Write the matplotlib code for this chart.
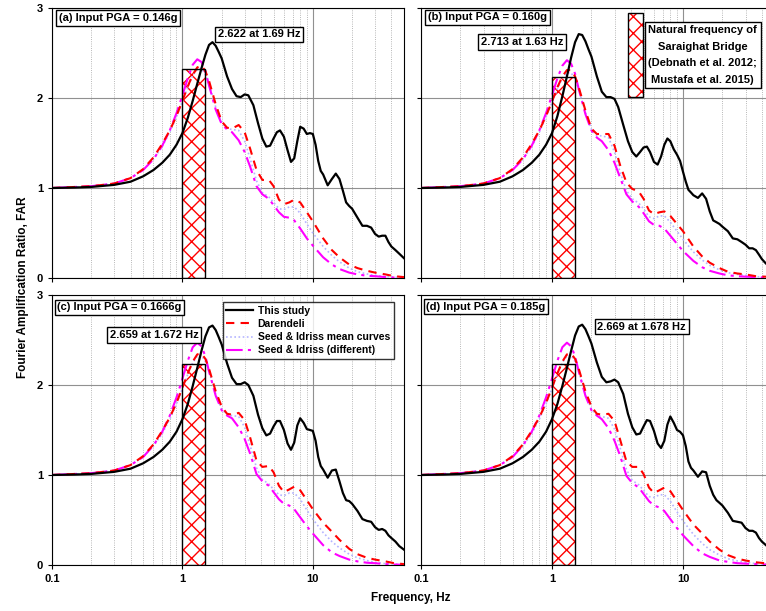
import matplotlib.pyplot as plt
from matplotlib.patches import Rectangle

plt.rcParams['font.family'] = ['Liberation Sans', 'DejaVu Sans']
plt.rcParams['font.weight'] = 'bold'

PANELS = ["a", "b", "c", "d"]
PGA_TEXT = ["(a) Input PGA = 0.146g", "(b) Input PGA = 0.160g",
            "(c) Input PGA = 0.1666g", "(d) Input PGA = 0.185g"]
PEAK_TEXT = ["2.622 at 1.69 Hz", "2.713 at 1.63 Hz",
             "2.659 at 1.672 Hz", "2.669 at 1.678 Hz"]

# natural frequency band of the bridge
BRIDGE_LO = 1.0
BRIDGE_HI = 1.5
BRIDGE_TOP = [2.32, 2.23, 2.23, 2.23]

# "This study" curves
FREQ_BLACK = [0.1, 0.15, 0.2, 0.3, 0.4, 0.5, 0.6, 0.7, 0.8, 0.9,
              1.0, 1.1, 1.2, 1.3, 1.4, 1.5, 1.6, 1.7, 1.8, 1.9,
              2.0, 2.2, 2.4, 2.6, 2.8, 3.0, 3.2, 3.5, 3.8, 4.1,
              4.4, 4.7, 5.0, 5.3, 5.6, 6.0, 6.4, 6.8, 7.2, 7.6,
              8.0, 8.5, 9.0, 9.5, 10, 10.5, 11, 11.5, 12, 13,
              14, 15, 16, 17, 18, 19, 20, 22, 24, 26,
              28, 30, 32, 34, 36, 38, 40, 43, 46, 50]
BLACK_A = [1.00, 1.005, 1.012, 1.035, 1.07, 1.13, 1.20, 1.28, 1.37, 1.48,
           1.61, 1.78, 1.97, 2.16, 2.33, 2.48, 2.59, 2.62, 2.58, 2.51,
           2.44, 2.24, 2.10, 2.02, 2.01, 2.04, 2.03, 1.92, 1.72, 1.55,
           1.46, 1.47, 1.55, 1.62, 1.64, 1.57, 1.42, 1.29, 1.33, 1.52,
           1.68, 1.66, 1.60, 1.61, 1.60, 1.48, 1.30, 1.19, 1.15, 1.03,
           1.10, 1.16, 1.10, 0.97, 0.84, 0.80, 0.77, 0.67, 0.58, 0.58,
           0.56, 0.49, 0.46, 0.47, 0.47, 0.40, 0.35, 0.31, 0.27, 0.22]
BLACK_B = [1.00, 1.005, 1.012, 1.035, 1.07, 1.13, 1.20, 1.28, 1.37, 1.48,
           1.61, 1.80, 2.02, 2.24, 2.45, 2.62, 2.71, 2.70, 2.63, 2.54,
           2.46, 2.24, 2.07, 2.01, 2.01, 1.99, 1.90, 1.70, 1.52, 1.40,
           1.35, 1.40, 1.45, 1.46, 1.40, 1.29, 1.26, 1.35, 1.48, 1.55,
           1.52, 1.43, 1.37, 1.30, 1.18, 1.07, 0.98, 0.95, 0.92, 0.89,
           0.94, 0.88, 0.74, 0.64, 0.62, 0.60, 0.57, 0.52, 0.44, 0.43,
           0.40, 0.37, 0.33, 0.33, 0.31, 0.26, 0.21, 0.16, 0.13, 0.10]
BLACK_C = [1.00, 1.005, 1.012, 1.035, 1.07, 1.13, 1.20, 1.28, 1.37, 1.48,
           1.62, 1.79, 1.99, 2.19, 2.38, 2.54, 2.64, 2.66, 2.61, 2.53,
           2.45, 2.24, 2.08, 2.01, 2.01, 2.03, 2.00, 1.88, 1.67, 1.52,
           1.44, 1.46, 1.54, 1.60, 1.60, 1.50, 1.35, 1.28, 1.36, 1.55,
           1.63, 1.58, 1.51, 1.50, 1.49, 1.38, 1.20, 1.10, 1.06, 0.97,
           1.05, 1.06, 0.93, 0.80, 0.72, 0.71, 0.68, 0.60, 0.51, 0.49,
           0.48, 0.42, 0.39, 0.40, 0.38, 0.33, 0.30, 0.26, 0.21, 0.17]
BLACK_D = [1.00, 1.005, 1.012, 1.035, 1.07, 1.13, 1.20, 1.28, 1.37, 1.48,
           1.62, 1.79, 1.99, 2.19, 2.38, 2.55, 2.65, 2.67, 2.62, 2.54,
           2.46, 2.25, 2.09, 2.03, 2.04, 2.06, 2.03, 1.90, 1.68, 1.53,
           1.45, 1.46, 1.54, 1.61, 1.60, 1.49, 1.35, 1.30, 1.38, 1.56,
           1.65, 1.58, 1.50, 1.48, 1.44, 1.32, 1.15, 1.08, 1.05, 0.98,
           1.04, 1.03, 0.88, 0.78, 0.72, 0.69, 0.66, 0.58, 0.49, 0.48,
           0.47, 0.41, 0.38, 0.38, 0.36, 0.30, 0.26, 0.22, 0.18, 0.15]

# Darendeli / Seed & Idriss curves
FREQ_SOFT = [0.1, 0.2, 0.3, 0.4, 0.5, 0.6, 0.7, 0.8, 0.9, 1.0,
             1.1, 1.2, 1.3, 1.4, 1.5, 1.6, 1.8, 2.0, 2.2, 2.4,
             2.7, 3.0, 3.3, 3.7, 4.1, 4.6, 5.0, 5.5, 6.0, 6.6,
             7.2, 8.0, 9.0, 10, 12, 14, 16, 19, 22, 26,
             30, 36, 42, 50]
RED_A = [1.00, 1.02, 1.05, 1.11, 1.21, 1.34, 1.49, 1.64, 1.80, 1.97,
         2.13, 2.26, 2.34, 2.36, 2.30, 2.19, 1.93, 1.74, 1.67, 1.66,
         1.70, 1.62, 1.44, 1.20, 1.09, 1.09, 1.02, 0.87, 0.82, 0.84,
         0.87, 0.84, 0.73, 0.63, 0.44, 0.31, 0.23, 0.15, 0.11, 0.08,
         0.06, 0.04, 0.02, 0.01]
MAG_A = [1.00, 1.02, 1.05, 1.11, 1.20, 1.32, 1.47, 1.64, 1.83, 2.03,
         2.22, 2.37, 2.43, 2.40, 2.30, 2.14, 1.87, 1.71, 1.65, 1.62,
         1.53, 1.40, 1.24, 1.02, 0.93, 0.88, 0.81, 0.73, 0.68, 0.67,
         0.64, 0.55, 0.44, 0.36, 0.23, 0.15, 0.10, 0.06, 0.04, 0.025,
         0.02, 0.01, 0.005, 0.003]
BLUE_A = [1.00, 1.02, 1.05, 1.11, 1.20, 1.32, 1.46, 1.62, 1.79, 1.96,
          2.12, 2.25, 2.32, 2.33, 2.26, 2.15, 1.90, 1.73, 1.66, 1.65,
          1.64, 1.52, 1.33, 1.08, 0.95, 0.90, 0.84, 0.77, 0.76, 0.79,
          0.79, 0.72, 0.60, 0.50, 0.35, 0.25, 0.18, 0.11, 0.07, 0.045,
          0.03, 0.015, 0.01, 0.005]
RED_B = [1.00, 1.02, 1.05, 1.11, 1.21, 1.34, 1.49, 1.64, 1.80, 1.96,
         2.12, 2.24, 2.31, 2.31, 2.24, 2.12, 1.86, 1.66, 1.60, 1.60,
         1.60, 1.47, 1.26, 1.06, 0.99, 0.96, 0.88, 0.75, 0.71, 0.73,
         0.74, 0.69, 0.60, 0.52, 0.35, 0.24, 0.17, 0.11, 0.07, 0.05,
         0.04, 0.02, 0.015, 0.01]
MAG_B = [1.00, 1.02, 1.05, 1.11, 1.20, 1.32, 1.47, 1.64, 1.83, 2.03,
         2.22, 2.36, 2.42, 2.38, 2.27, 2.10, 1.82, 1.64, 1.56, 1.52,
         1.42, 1.28, 1.12, 0.93, 0.85, 0.79, 0.72, 0.63, 0.59, 0.58,
         0.55, 0.47, 0.38, 0.30, 0.19, 0.12, 0.08, 0.05, 0.03, 0.02,
         0.015, 0.01, 0.005, 0.003]
BLUE_B = [1.00, 1.02, 1.05, 1.11, 1.20, 1.32, 1.46, 1.62, 1.79, 1.95,
          2.10, 2.22, 2.28, 2.28, 2.21, 2.09, 1.84, 1.65, 1.58, 1.58,
          1.56, 1.40, 1.18, 0.97, 0.88, 0.83, 0.77, 0.68, 0.66, 0.69,
          0.69, 0.62, 0.52, 0.43, 0.29, 0.20, 0.14, 0.09, 0.06, 0.04,
          0.03, 0.015, 0.01, 0.005]
RED_C = [1.00, 1.02, 1.05, 1.11, 1.21, 1.34, 1.49, 1.64, 1.80, 1.97,
         2.13, 2.26, 2.34, 2.35, 2.29, 2.18, 1.93, 1.76, 1.68, 1.67,
         1.69, 1.61, 1.42, 1.16, 1.09, 1.10, 1.03, 0.88, 0.81, 0.84,
         0.87, 0.83, 0.72, 0.62, 0.47, 0.37, 0.28, 0.18, 0.12, 0.08,
         0.06, 0.04, 0.02, 0.01]
MAG_C = [1.00, 1.02, 1.05, 1.11, 1.20, 1.33, 1.48, 1.66, 1.86, 2.07,
         2.27, 2.42, 2.47, 2.43, 2.32, 2.15, 1.88, 1.72, 1.66, 1.63,
         1.53, 1.40, 1.24, 1.01, 0.93, 0.88, 0.81, 0.73, 0.68, 0.66,
         0.62, 0.53, 0.43, 0.35, 0.22, 0.14, 0.10, 0.06, 0.04, 0.025,
         0.02, 0.01, 0.005, 0.003]
BLUE_C = [1.00, 1.02, 1.05, 1.11, 1.20, 1.32, 1.46, 1.62, 1.79, 1.96,
          2.12, 2.25, 2.32, 2.33, 2.26, 2.15, 1.90, 1.73, 1.67, 1.66,
          1.65, 1.53, 1.33, 1.08, 0.95, 0.90, 0.84, 0.78, 0.77, 0.80,
          0.80, 0.73, 0.61, 0.51, 0.36, 0.26, 0.19, 0.12, 0.08, 0.05,
          0.03, 0.015, 0.01, 0.005]
RED_D = [1.00, 1.02, 1.05, 1.11, 1.21, 1.34, 1.49, 1.64, 1.80, 1.97,
         2.13, 2.26, 2.34, 2.35, 2.29, 2.18, 1.93, 1.76, 1.68, 1.67,
         1.68, 1.60, 1.40, 1.15, 1.09, 1.09, 1.01, 0.86, 0.80, 0.83,
         0.86, 0.82, 0.71, 0.61, 0.45, 0.35, 0.26, 0.17, 0.11, 0.07,
         0.05, 0.03, 0.02, 0.01]
MAG_D = [1.00, 1.02, 1.05, 1.11, 1.20, 1.33, 1.48, 1.66, 1.86, 2.07,
         2.27, 2.42, 2.47, 2.43, 2.32, 2.15, 1.88, 1.72, 1.66, 1.62,
         1.52, 1.38, 1.22, 0.99, 0.91, 0.86, 0.79, 0.71, 0.66, 0.64,
         0.60, 0.51, 0.41, 0.33, 0.21, 0.13, 0.09, 0.05, 0.035, 0.02,
         0.015, 0.01, 0.005, 0.003]
BLUE_D = [1.00, 1.02, 1.05, 1.11, 1.20, 1.32, 1.46, 1.62, 1.79, 1.96,
          2.12, 2.25, 2.32, 2.33, 2.26, 2.15, 1.90, 1.73, 1.66, 1.65,
          1.63, 1.51, 1.31, 1.06, 0.94, 0.89, 0.83, 0.76, 0.75, 0.78,
          0.78, 0.71, 0.59, 0.49, 0.34, 0.24, 0.17, 0.11, 0.07, 0.045,
          0.03, 0.015, 0.01, 0.005]

BLACKS = [BLACK_A, BLACK_B, BLACK_C, BLACK_D]
REDS = [RED_A, RED_B, RED_C, RED_D]
MAGS = [MAG_A, MAG_B, MAG_C, MAG_D]
BLUES = [BLUE_A, BLUE_B, BLUE_C, BLUE_D]

# text box positions (axes fraction)
PGA_POS = [(0.02, 0.963), (0.02, 0.965), (0.015, 0.954), (0.015, 0.957)]
PEAK_POS = [(0.589, 0.902), (0.286, 0.874), (0.29, 0.852), (0.624, 0.883)]

# axes rectangles in figure fraction: left, bottom, width, height
AX_POS = [[0.0679, 0.5450, 0.4595, 0.4419],
          [0.5496, 0.5450, 0.4616, 0.4419],
          [0.0679, 0.0753, 0.4595, 0.4419],
          [0.5496, 0.0753, 0.4616, 0.4419]]

BOX = dict(boxstyle='square,pad=0.25', fc='white', ec='black', lw=1.0)

fig = plt.figure(figsize=(7.66, 6.11), dpi=100)

for i in range(4):
    ax = fig.add_axes(AX_POS[i])
    ax.set_xscale('log')
    ax.set_xlim(0.1, 50)
    ax.set_ylim(0, 3)
    ax.set_yticks([0, 1, 2, 3])
    ax.set_xticks([0.1, 1, 10])
    ax.set_xticklabels(['0.1', '1', '10'])
    ax.grid(which='major', color='#909090', lw=0.8, ls='-')
    ax.grid(which='minor', axis='x', color='#a0a0a0', lw=0.6, ls=':')
    ax.set_axisbelow(True)
    ax.tick_params(which='major', labelsize=8, length=3, width=0.8)
    ax.tick_params(which='minor', length=0)
    for lbl in ax.get_xticklabels() + ax.get_yticklabels():
        lbl.set_fontweight('bold')
    if i in (1, 3):
        ax.tick_params(axis='y', labelleft=False)
    if i in (0, 1):
        ax.tick_params(axis='x', labelbottom=False)
    for sp in ax.spines.values():
        sp.set_linewidth(0.8)

    # bridge natural frequency band
    ax.bar(BRIDGE_LO, BRIDGE_TOP[i], width=BRIDGE_HI - BRIDGE_LO, align='edge',
           color='white', edgecolor='red', lw=0, hatch='xx', zorder=2)
    ax.bar(BRIDGE_LO, BRIDGE_TOP[i], width=BRIDGE_HI - BRIDGE_LO, align='edge',
           fill=False, edgecolor='black', lw=1.0, zorder=5)

    ax.plot(FREQ_SOFT, BLUES[i], color='#b4b4ff', lw=1.2, ls=(0, (1, 1.5)),
            zorder=3, label='Seed & Idriss mean curves')
    ax.plot(FREQ_SOFT, MAGS[i], color='#ff00ff', lw=1.5,
            dashes=(8, 2.5, 1.5, 2.5), zorder=3,
            label='Seed & Idriss (different)')
    ax.plot(FREQ_SOFT, REDS[i], color='red', lw=1.5, dashes=(4, 3),
            zorder=4, label='Darendeli')
    ax.plot(FREQ_BLACK, BLACKS[i], color='black', lw=1.6, zorder=6,
            label='This study')

    ax.text(PGA_POS[i][0], PGA_POS[i][1], PGA_TEXT[i], transform=ax.transAxes,
            ha='left', va='center', fontsize=8, fontweight='bold',
            bbox=BOX, zorder=10)
    ax.text(PEAK_POS[i][0], PEAK_POS[i][1], PEAK_TEXT[i],
            transform=ax.transAxes, ha='center', va='center', fontsize=8,
            fontweight='bold', bbox=BOX, zorder=10)

    if i == 2:
        h, l = ax.get_legend_handles_labels()
        order = [3, 2, 0, 1]
        leg = ax.legend([h[k] for k in order], [l[k] for k in order],
                        loc='upper right', bbox_to_anchor=(0.985, 0.992),
                        prop={'weight': 'bold', 'size': 7.5},
                        frameon=True, fancybox=False, edgecolor='black',
                        handlelength=2.6, handletextpad=0.4,
                        borderpad=0.35, labelspacing=0.3)
        leg.get_frame().set_linewidth(1.0)
        leg.set_zorder(11)

    if i == 1:
        ax.add_patch(Rectangle((0.585, 0.670), 0.043, 0.311,
                               transform=ax.transAxes, facecolor='white',
                               edgecolor='red', lw=0, hatch='xx', zorder=10))
        ax.add_patch(Rectangle((0.585, 0.670), 0.043, 0.311,
                               transform=ax.transAxes, fill=False,
                               edgecolor='black', lw=1.0, zorder=11))
        ax.text(0.797, 0.826,
                "Natural frequency of\nSaraighat Bridge\n"
                "(Debnath et al. 2012;\nMustafa et al. 2015)",
                transform=ax.transAxes, ha='center', va='center',
                fontsize=8, fontweight='bold', linespacing=1.8,
                bbox=dict(boxstyle='square,pad=0.3', fc='white',
                          ec='black', lw=1.0), zorder=11)

fig.text(0.03, 1 - 287 / 611, "Fourier Amplification Ratio, FAR",
         rotation=90, ha='center', va='center', fontsize=8.5,
         fontweight='bold')
fig.text(411 / 766, 1 - 598 / 611, "Frequency, Hz", ha='center',
         va='center', fontsize=8.5, fontweight='bold')

fig.savefig('out.png', dpi=100)
